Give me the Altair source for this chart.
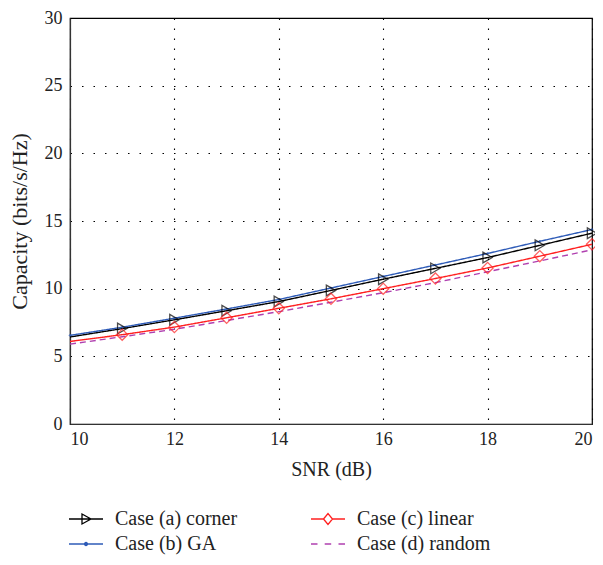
import altair as alt
import pandas as pd

snr = [10, 11, 12, 13, 14, 15, 16, 17, 18, 19, 20]
cap_corner = [6.43, 7.05, 7.70, 8.37, 9.05, 9.87, 10.70, 11.50, 12.30, 13.20, 14.10]
cap_ga = [6.55, 7.15, 7.82, 8.50, 9.20, 10.05, 10.90, 11.75, 12.60, 13.50, 14.37]
cap_linear = [6.10, 6.60, 7.16, 7.85, 8.55, 9.25, 10.00, 10.75, 11.53, 12.40, 13.28]
cap_random = [5.90, 6.45, 7.00, 7.65, 8.30, 9.00, 9.70, 10.45, 11.25, 12.05, 12.87]

series = ["Case (a) corner", "Case (b) GA", "Case (c) linear", "Case (d) random"]
dash_kind = ["solid", "solid", "solid", "dashed"]
colors = ["#000000", "#2f5cb8", "#ff2020", "#b040b0"]
legend_paths = [
    "M-1.7,0H1.7M-0.4,-0.5L0.5,0L-0.4,0.5Z",
    "M-1.7,0H1.7M-0.15,0A0.15,0.15,0,1,0,0.15,0A0.15,0.15,0,1,0,-0.15,0Z",
    "M-1.7,0H-0.45L0,-0.55L0.45,0L0,0.55L-0.45,0ZM0.45,0H1.7",
    "M-1.7,0H-1.05M-0.33,0H0.32M1.05,0H1.7",
]
# legend fills row by row, so list entries as (a, c, b, d) to get two columns
legend_order = [0, 2, 1, 3]

rows = []
for name, dk, vals in zip(series, dash_kind, [cap_corner, cap_ga, cap_linear, cap_random]):
    for s, v in zip(snr, vals):
        rows.append({"snr": s, "cap": v, "series": name, "dash": dk, "entry": name})
df = pd.DataFrame(rows)

FONT = "Liberation Serif"

x = alt.X("snr:Q", title="SNR (dB)", scale=alt.Scale(domain=[10, 20], nice=False),
          axis=alt.Axis(values=[10, 12, 14, 16, 18, 20], gridDash=[1.5, 8.5]))
y = alt.Y("cap:Q", title="Capacity (bits/s/Hz)", scale=alt.Scale(domain=[0, 30], nice=False),
          axis=alt.Axis(values=[0, 5, 10, 15, 20, 25, 30], gridDash=[1.5, 10]))
color_scale = alt.Scale(domain=series, range=colors)


def make_legend():
    return alt.Legend(
        title=None, orient="none", legendX=5, legendY=490,
        columns=2, direction="horizontal", padding=0,
        symbolSize=400, symbolStrokeWidth=1.3, symbolOpacity=1,
        labelFont=FONT, labelFontSize=20, labelColor="#222222",
        labelOffset=18, columnPadding=70, rowPadding=4, labelLimit=300,
    )


entry_domain = [series[i] for i in legend_order]
entry_paths = [legend_paths[i] for i in legend_order]
entry_colors = [colors[i] for i in legend_order]

lines = alt.Chart(df).mark_line(strokeWidth=1.4).encode(
    x=x, y=y,
    color=alt.Color("series:N", scale=color_scale, legend=None),
    strokeDash=alt.StrokeDash("dash:N", scale=alt.Scale(domain=["solid", "dashed"], range=[[1, 0], [6, 4]]), legend=None),
    detail="series:N",
)

mk = df[df["snr"] > 10]
tri = alt.Chart(mk[mk["series"] == series[0]]).mark_point(
    shape="triangle-right", size=115, color="#000000", filled=False, strokeWidth=1.3
).encode(x="snr:Q", y="cap:Q")
dia = alt.Chart(mk[mk["series"] == series[2]]).mark_point(
    shape="diamond", size=125, color="#ff2020", filled=False, strokeWidth=1.3
).encode(x="snr:Q", y="cap:Q")
dots = alt.Chart(df[df["series"] == series[1]]).mark_point(
    shape="circle", size=6, color="#2f5cb8", filled=True
).encode(x="snr:Q", y="cap:Q")

legend_layer = alt.Chart(df).mark_point(opacity=0, filled=False, strokeWidth=1.3).encode(
    x="snr:Q", y="cap:Q",
    shape=alt.Shape("entry:N", scale=alt.Scale(domain=entry_domain, range=entry_paths), legend=make_legend()),
    stroke=alt.Stroke("entry:N", scale=alt.Scale(domain=entry_domain, range=entry_colors), legend=make_legend()),
)

chart = alt.layer(lines, dots, tri, dia, legend_layer).properties(
    width=522, height=406,
    autosize=alt.AutoSizeParams(type="none"),
    padding={"left": 62, "top": 10, "right": 3, "bottom": 133},
).configure_view(stroke="#000000", strokeWidth=1.2).configure_axis(
    labelFont=FONT, titleFont=FONT, labelFontSize=18,
    labelColor="#222222", titleColor="#222222", titleFontWeight="normal",
    domainColor="#333333", domainWidth=1.2, ticks=False,
    gridColor="#000000", gridWidth=1.1, gridOpacity=1,
).configure_axisX(labelPadding=6, titlePadding=11, titleFontSize=20).configure_axisY(
    labelPadding=8, titlePadding=13, titleFontSize=22)

chart.save("out.html", embed_options={"renderer": "svg", "actions": False})
